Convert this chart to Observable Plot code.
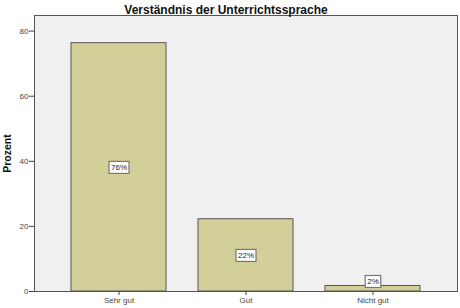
<!DOCTYPE html>
<html><head><meta charset="utf-8">
<script src="https://cdn.jsdelivr.net/npm/d3@7"></script>
<script src="https://cdn.jsdelivr.net/npm/@observablehq/plot@0.6"></script>
<style>body{margin:0;background:#fff} svg{display:block}</style>
</head><body><div id="chart"></div><script>
const title = "Verständnis der Unterrichtssprache";
const yLabel = "Prozent";
const categories = ["Sehr gut", "Gut", "Nicht gut"];
const values = [76.3, 22.2, 1.7];
const labels = ["76%", "22%", "2%"];
const yTicks = [0, 20, 40, 60, 80];
const data = categories.map((c, i) => ({cat: c, v: values[i], label: labels[i]}));

const plot = Plot.plot({
  width: 460, height: 308,
  marginLeft: 34, marginRight: 3, marginTop: 15, marginBottom: 17,
  style: {fontFamily: "'Liberation Sans', Arial, sans-serif", background: "#fff", color: "#222"},
  x: {domain: categories, paddingInner: 0.25, paddingOuter: 0.29, label: null},
  y: {domain: [0, 84.8], label: null},
  marks: [
    Plot.frame({fill: "#f0f0f0"}),
    Plot.barY(data, {x: "cat", y: "v", fill: "#d3cf98", stroke: "#555", strokeWidth: 1}),
    Plot.frame({stroke: "#555"}),
    Plot.axisY({ticks: yTicks, tickSize: 5, tickPadding: 1, fontSize: 8, color: "#444", label: null, tickFormat: d => d}),
    Plot.axisX({tickSize: 4, tickPadding: 2, fontSize: 8, color: "#444", label: null}),
    Plot.text(data, {x: "cat", y: d => Math.max(d.v / 2, 3.1), text: "label", fontSize: 8, fill: "#222", className: "vlabel"}),
    Plot.text([title], {frameAnchor: "top", lineAnchor: "bottom", dy: -2, dx: -20, fontSize: 12, fontWeight: "bold", fill: "#111"}),
    Plot.text([yLabel], {frameAnchor: "left", textAnchor: "middle", lineAnchor: "middle", dx: -27, rotate: -90, fontSize: 10.5, fontWeight: "bold", fill: "#111"})
  ]
});
document.getElementById("chart").append(plot);
d3.select(plot).selectAll("g.vlabel text").each(function() {
  const b = this.getBBox();
  d3.select(this.parentNode).insert("rect", () => this)
    .attr("transform", this.getAttribute("transform"))
    .attr("x", b.x - 2).attr("y", b.y - 1.5)
    .attr("width", b.width + 4).attr("height", b.height + 3)
    .attr("fill", "#fff").attr("stroke", "#777").attr("stroke-width", 1.2);
});
</script></body></html>
